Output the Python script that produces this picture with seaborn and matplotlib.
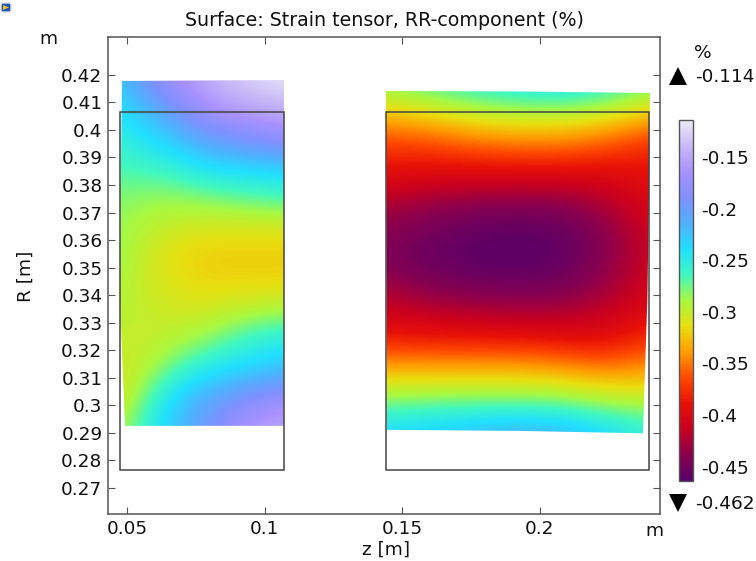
import numpy as np
import matplotlib
matplotlib.use("Agg")
import matplotlib.pyplot as plt
from matplotlib.patches import Polygon, Rectangle, FancyBboxPatch
from matplotlib.lines import Line2D
import seaborn as sns

TITLE = "Surface: Strain tensor, RR-component (%)"
XTICKS = [0.05, 0.1, 0.15, 0.2]
XTICKLABELS = ["0.05", "0.1", "0.15", "0.2"]
YTICKS = [0.27, 0.28, 0.29, 0.3, 0.31, 0.32, 0.33, 0.34, 0.35, 0.36, 0.37, 0.38, 0.39, 0.4, 0.41, 0.42]
YTICKLABELS = ["0.27", "0.28", "0.29", "0.3", "0.31", "0.32", "0.33", "0.34", "0.35", "0.36", "0.37", "0.38", "0.39", "0.4", "0.41", "0.42"]
CBAR_TICKS = [-0.45, -0.4, -0.35, -0.3, -0.25, -0.2, -0.15]
CBAR_LABELS = ["-0.45", "-0.4", "-0.35", "-0.3", "-0.25", "-0.2", "-0.15"]
VMIN, VMAX = -0.464, -0.114

LEFT_BLOCK = np.array([
    [-0.225, -0.190, -0.165, -0.148, -0.135, -0.124, -0.116],
    [-0.240, -0.220, -0.195, -0.170, -0.155, -0.150, -0.145],
    [-0.255, -0.240, -0.225, -0.205, -0.195, -0.185, -0.175],
    [-0.265, -0.260, -0.255, -0.240, -0.235, -0.232, -0.230],
    [-0.280, -0.283, -0.283, -0.278, -0.272, -0.268, -0.262],
    [-0.285, -0.295, -0.300, -0.305, -0.305, -0.305, -0.305],
    [-0.285, -0.303, -0.315, -0.320, -0.322, -0.322, -0.322],
    [-0.290, -0.305, -0.310, -0.318, -0.318, -0.318, -0.318],
    [-0.295, -0.300, -0.305, -0.305, -0.300, -0.295, -0.290],
    [-0.300, -0.300, -0.295, -0.285, -0.270, -0.255, -0.250],
    [-0.305, -0.295, -0.270, -0.250, -0.240, -0.235, -0.225],
    [-0.310, -0.270, -0.235, -0.215, -0.200, -0.185, -0.175],
    [-0.290, -0.255, -0.225, -0.200, -0.175, -0.155, -0.150],
])
RIGHT_BLOCK = np.array([
    [-0.285, -0.270, -0.258, -0.250, -0.245, -0.255, -0.280],
    [-0.335, -0.325, -0.310, -0.305, -0.305, -0.315, -0.335],
    [-0.372, -0.370, -0.360, -0.355, -0.355, -0.365, -0.380],
    [-0.395, -0.400, -0.402, -0.402, -0.402, -0.400, -0.390],
    [-0.425, -0.435, -0.440, -0.442, -0.440, -0.425, -0.400],
    [-0.440, -0.450, -0.458, -0.460, -0.458, -0.440, -0.410],
    [-0.445, -0.455, -0.460, -0.462, -0.458, -0.440, -0.410],
    [-0.425, -0.440, -0.445, -0.447, -0.445, -0.430, -0.405],
    [-0.405, -0.410, -0.415, -0.418, -0.418, -0.410, -0.390],
    [-0.370, -0.372, -0.372, -0.372, -0.378, -0.385, -0.365],
    [-0.320, -0.320, -0.320, -0.320, -0.325, -0.335, -0.330],
    [-0.275, -0.272, -0.270, -0.270, -0.272, -0.285, -0.290],
    [-0.235, -0.228, -0.220, -0.212, -0.215, -0.235, -0.255],
])
LEFT_RANGE = (0.04746, 0.10705, 0.29245, 0.41782)
RIGHT_RANGE = (0.14411, 0.24004, 0.28991, 0.41419)
LEFT_SHAPE = [(0.04818, 0.41782), (0.10705, 0.41818), (0.10705, 0.29245), (0.04927, 0.29245),
              (0.04746, 0.33824), (0.04764, 0.37458)]
RIGHT_SHAPE = [(0.14411, 0.41419), (0.1928, 0.41400), (0.24004, 0.41346), (0.23968, 0.3745), (0.2391, 0.3382),
               (0.2375, 0.28973), (0.1928, 0.2906), (0.14448, 0.29100)]
LEFT_OUTLINE = (0.0473, 0.1070, 0.2765, 0.4066)
RIGHT_OUTLINE = (0.1441, 0.2398, 0.2765, 0.4066)
CMAP_COLORS = ["#56006a", "#8a004e", "#c80020", "#e81008", "#ff4a00", "#ff9c00", "#e8e010",
               "#a8f840", "#40f8c0", "#20e0ff", "#50b0ff", "#8090ff", "#a890ff", "#c8b8f8", "#ebe9f7"]

sns.set_theme(style="white")
plt.rcParams["font.family"] = ["DejaVu Sans"]
cmap = sns.blend_palette(CMAP_COLORS, n_colors=256, as_cmap=True)

W, H = 756, 561
fig = plt.figure(figsize=(W / 100, H / 100), dpi=100, facecolor="white")
ax = fig.add_axes([108 / W, (H - 514) / H, 552 / W, 477 / H])
TEXT = "#111111"
EDGE = "#555555"
FS = 13.3


def draw_block(values, rng, shape):
    zl, zr, rb, rt = rng
    dz = (zr - zl) / (values.shape[1] - 1) / 2
    dr = (rt - rb) / (values.shape[0] - 1) / 2
    im = ax.imshow(values, cmap=cmap, vmin=VMIN, vmax=VMAX, origin="upper",
                   extent=(zl - dz, zr + dz, rb - dr, rt + dr), aspect="auto",
                   interpolation="bicubic", interpolation_stage="data", zorder=1)
    im.set_clip_path(Polygon(shape, closed=True, transform=ax.transData))
    return im


im = draw_block(LEFT_BLOCK, LEFT_RANGE, LEFT_SHAPE)
draw_block(RIGHT_BLOCK, RIGHT_RANGE, RIGHT_SHAPE)
for zl, zr, rb, rt in (LEFT_OUTLINE, RIGHT_OUTLINE):
    ax.add_patch(Rectangle((zl, rb), zr - zl, rt - rb, fill=False, ec="#444444", lw=1.1, zorder=3))

ax.set_xlim(0.0431, 0.2437)
ax.set_ylim(0.2604, 0.4338)
ax.set_xticks(XTICKS, XTICKLABELS)
ax.set_yticks(YTICKS, YTICKLABELS)
ax.tick_params(direction="in", length=5, width=0.8, color=EDGE, labelsize=FS, labelcolor=TEXT,
               top=True, right=True, bottom=True, left=True, pad=4)
for s in ax.spines.values():
    s.set_color(EDGE)
    s.set_linewidth(1.1)
    s.set_visible(True)
fig.text(384.5 / W, 1 - 21 / H, TITLE, ha="center", va="center", fontsize=13.7, color=TEXT)
fig.text(386 / W, 1 - 550 / H, "z [m]", ha="center", va="center", fontsize=FS, color=TEXT)
fig.text(26 / W, 1 - 276 / H, "R [m]", ha="center", va="center", rotation=90, fontsize=FS, color=TEXT)
fig.text(48 / W, 1 - 39 / H, "m", ha="center", va="center", fontsize=FS, color=TEXT)
fig.text(654 / W, 1 - 531 / H, "m", ha="center", va="center", fontsize=FS, color=TEXT)

cax = fig.add_axes([679 / W, (H - 481) / H, 14 / W, 361 / H])
cbar = fig.colorbar(im, cax=cax)
cbar.set_ticks(CBAR_TICKS, labels=CBAR_LABELS)
cax.tick_params(direction="in", length=2.5, width=0.8, color="#333333", labelsize=FS, labelcolor=TEXT,
                left=True, right=True, pad=6)
cbar.outline.set_edgecolor(EDGE)
cbar.outline.set_linewidth(1.0)

fig.text(703 / W, 1 - 53 / H, "%", ha="center", va="center", fontsize=FS, color=TEXT)
fig.text(695 / W, 1 - 77 / H, "-0.114", ha="left", va="center", fontsize=FS, color=TEXT)
fig.text(695 / W, 1 - 504 / H, "-0.462", ha="left", va="center", fontsize=FS, color=TEXT)
fig.add_artist(Line2D([678 / W], [1 - 76 / H], marker="^", ms=13, color="black", mew=0, transform=fig.transFigure))
fig.add_artist(Line2D([678 / W], [1 - 503 / H], marker="v", ms=13, color="black", mew=0, transform=fig.transFigure))

icon = fig.add_axes([0, (H - 15) / H, 14 / W, 15 / H])
icon.set_xlim(0, 14)
icon.set_ylim(15, 0)
icon.axis("off")
icon.add_patch(FancyBboxPatch((1, 3), 10, 9, boxstyle="round,pad=0,rounding_size=2", fc="#1f55b0", ec="#d8dde8", lw=1))
icon.add_patch(Polygon([(3, 5), (9, 7.5), (3, 10)], closed=True, fc="#f0c020", ec="none"))

fig.savefig("out.png", dpi=100)
